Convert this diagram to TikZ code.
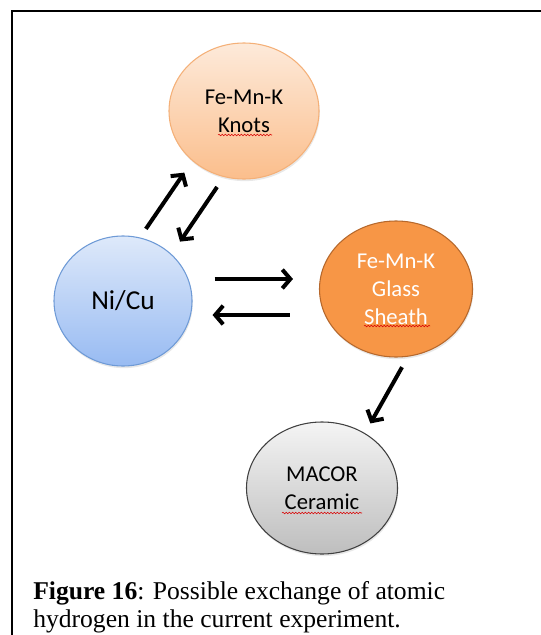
\documentclass[tikz,border=0pt]{standalone}
\usepackage{fontspec}
\setmainfont{Liberation Serif}
\newfontfamily\calibri{Carlito}
\usepackage{tikz}
\usetikzlibrary{positioning,calc,arrows.meta,shapes.geometric,shadows,decorations.pathmorphing}
\definecolor{KnotsTop}{RGB}{253,234,218}
\definecolor{KnotsBot}{RGB}{251,190,140}
\definecolor{KnotsLine}{RGB}{244,176,120}
\definecolor{NiTop}{RGB}{222,233,250}
\definecolor{NiBot}{RGB}{152,187,242}
\definecolor{NiLine}{RGB}{110,154,214}
\definecolor{SheathFill}{RGB}{247,150,70}
\definecolor{SheathLine}{RGB}{182,104,44}
\definecolor{MacorTop}{RGB}{244,244,244}
\definecolor{MacorBot}{RGB}{190,190,190}
\definecolor{MacorLine}{RGB}{64,64,64}

\begin{document}
\begin{tikzpicture}[
    x=0.75pt, y=-0.75pt,
    font=\calibri\fontsize{17}{21}\selectfont,
    blob/.style={
        ellipse,
        draw,
        line width=0.8pt,
        inner sep=0pt,
        align=center,
        drop shadow={opacity=0.18,shadow xshift=0.6pt,shadow yshift=-1.6pt}
    },
    knotsbox/.style={
        blob,
        minimum width=112.5pt,
        minimum height=102pt,
        draw=KnotsLine,
        top color=KnotsTop,
        bottom color=KnotsBot
    },
    nibox/.style={
        blob,
        minimum width=103.5pt,
        minimum height=97.5pt,
        draw=NiLine,
        top color=NiTop,
        bottom color=NiBot,
        font=\calibri\fontsize{20.5}{24}\selectfont
    },
    sheathbox/.style={
        blob,
        minimum width=114.75pt,
        minimum height=102pt,
        draw=SheathLine,
        fill=SheathFill,
        text=white
    },
    macorbox/.style={
        blob,
        minimum width=113.25pt,
        minimum height=99pt,
        draw=MacorLine,
        top color=MacorTop,
        bottom color=MacorBot
    },
    arrow/.style={
        -{Straight Barb[length=6pt,width=14pt]},
        line width=3pt,
        draw=black
    },
    squiggle/.style={
        draw=red!85!black,
        line width=0.4pt,
        decorate,
        decoration={snake,amplitude=0.6pt,segment length=2.4pt}
    },
    frame/.style={
        line width=1.5pt,
        draw=black
    }
]

\useasboundingbox (0,0) rectangle (541,635);

% frame
\draw[frame] (541,11) -- (12,11) -- (12,635);

% =========================
% materials
% =========================
\node[knotsbox] (knots) at (244,111) {Fe-Mn-K\\Knots};
\node[nibox] (nicu) at (123,301) {Ni/Cu};
\node[sheathbox] (sheath) at (396,289) {Fe-Mn-K\\Glass\\Sheath};
\node[macorbox] (macor) at (322,488) {MACOR\\Ceramic};

% spell-check marks
\draw[squiggle] (218,135) -- (272,135);
\draw[squiggle] (364,326) -- (430,326);
\draw[squiggle] (282,513) -- (362,513);

% =========================
% exchange arrows
% =========================
\draw[arrow, shorten <=7.8pt, shorten >=10.6pt] (nicu.75) -- (knots.224);
\draw[arrow, shorten <=9pt, shorten >=11.3pt] (knots.253) -- (nicu.44);

\draw[arrow] ([xshift=16.5pt,yshift=16.5pt]nicu.east)
    -- ([xshift=-19.5pt,yshift=7.5pt]sheath.west);
\draw[arrow] ([xshift=-21.75pt,yshift=-19.5pt]sheath.west)
    -- ([xshift=15pt,yshift=-10.5pt]nicu.east);

\draw[arrow, shorten <=9pt, shorten >=8.3pt] (sheath.280) -- (macor.52.6);

% caption
\node[anchor=base west, align=left, inner sep=0pt,
      font=\rmfamily\fontsize{19.2}{21}\selectfont] (caption) at (33,627)
    {\textbf{Figure 16}: Possible exchange of atomic\\hydrogen in the current experiment.};

\end{tikzpicture}
\end{document}
